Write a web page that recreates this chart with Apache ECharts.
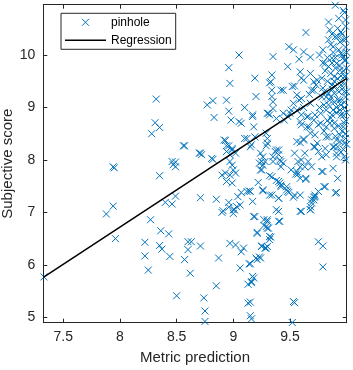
<!DOCTYPE html>
<html><head><meta charset="utf-8">
<script src="https://cdn.jsdelivr.net/npm/echarts@6/dist/echarts.min.js"></script>
<style>html,body{margin:0;padding:0;background:#fff}#c{width:353px;height:370px}</style>
</head><body><div id="c"></div>
<script>
const xTicks = [7.5, 8, 8.5, 9, 9.5];
const yTicks = [5, 6, 7, 8, 9, 10];
const xRange = [7.324, 10];
const yRange = [4.897, 10.96];
const regressionX = [7.324, 10];
const regressionY = [5.76, 9.556];
const pinhole = [
[7.33,5.77],[7.88,6.97],[7.94,7.12],[7.94,7.87],[7.95,7.85],[7.96,6.50],
[8.27,6.86],[8.31,8.71],[8.28,8.50],[8.35,8.62],[8.32,9.16],
[8.46,7.97],[8.47,7.91],[8.49,7.87],[8.49,7.96],[8.35,7.70],
[8.40,7.19],[8.46,7.16],[8.49,7.31],[8.36,6.65],[8.43,6.59],
[8.22,6.43],[8.35,6.37],[8.22,6.17],[8.25,5.90],[8.37,6.30],[8.44,6.16],[8.50,5.41],
[8.60,6.44],[8.63,6.44],[8.71,6.36],[8.60,6.29],[8.57,6.10],[8.62,5.84],[8.87,6.13],[8.85,5.60],[8.74,5.37],[8.75,5.12],[8.75,4.92],
[8.97,6.41],[9.02,6.38],[9.07,6.25],[9.09,6.32],[9.06,5.94],[9.15,6.02],[9.21,6.10],[9.24,6.13],[9.18,5.75],[9.16,5.68],[9.13,5.63],[9.13,5.27],[9.15,5.29],[9.15,5.03],[9.16,4.97],[9.25,6.36],[9.28,6.32],[9.30,6.35],[9.32,6.48],[9.53,5.30],[9.54,5.28],[9.52,4.90],[9.75,6.44],[9.79,6.36],[9.79,5.96],
[8.97,7.97],[8.99,7.90],[8.90,7.71],[8.93,7.75],[8.97,7.71],[9.02,7.75],[8.94,7.59],[8.99,7.56],[9.00,7.81],
[8.71,7.28],[8.85,7.25],[8.96,7.19],[9.04,7.30],[9.07,7.38],[9.12,7.40],[9.03,7.11],[9.00,7.05],[9.00,6.98],[8.90,7.00],
[8.96,7.10],[9.01,7.05],[9.06,7.14],[8.91,7.03],
[9.14,7.41],[9.19,6.92],[9.26,7.41],[9.32,7.33],[9.38,7.05],[9.40,7.27],[9.40,6.83],[9.30,6.86],[9.27,6.75],[9.30,6.70],[9.21,6.60],[9.32,6.54],
[8.56,8.27],[8.71,8.13],[8.72,8.10],[8.82,8.01],[8.93,8.37],[8.96,8.27],[8.99,8.19],[8.94,8.16],[8.97,8.10],[9.02,8.13],[9.12,8.41],[9.15,8.25],[9.24,8.13],[9.30,8.32],[9.30,8.41],[9.25,7.97],[9.28,7.97],[9.24,7.81],[9.32,7.70],[9.35,7.97],[9.35,8.06],[9.38,8.19],[9.40,8.10],[9.41,8.00],[9.44,7.94],[9.40,7.59],[9.42,7.52],[9.47,7.43],[9.49,7.38],[9.53,7.29],[9.56,7.78],[9.57,7.73],[9.60,8.00],[9.59,7.87],[9.64,7.63],[9.59,8.33],[9.62,8.40],[9.65,8.63],[9.68,8.51],[9.74,8.32],[9.78,7.78],[9.80,7.49],[9.88,7.84],[9.72,7.33],[9.69,7.24],[9.71,7.29],[9.68,7.11],[9.68,7.05],[9.59,7.02],[9.91,7.38],
[9.23,7.94],[9.26,7.90],[9.25,7.81],[9.42,7.87],[9.51,7.81],[9.57,7.97],[9.55,7.73],[9.59,7.65],[9.63,7.87],[9.69,7.87],[9.64,7.65],[9.79,7.78],[9.92,7.65],[9.34,7.68],[9.38,7.61],[9.41,7.56],[9.42,7.49],[9.47,7.49],[9.48,7.40],[9.54,7.33],[9.59,7.33],[9.22,7.57],[9.26,7.43],[9.34,7.33],[9.40,7.27],[9.15,7.40],[9.17,7.21],[9.18,6.92],[9.21,6.62],[9.27,6.86],[9.30,6.83],[9.29,6.73],[9.31,6.70],[9.33,6.53],[9.40,7.02],[9.41,6.83],[9.25,6.35],[9.29,6.32],[9.20,6.13],[9.23,6.15],[9.14,6.02],[9.17,5.78],[9.16,5.66],[9.60,7.02],[9.69,7.18],[9.68,7.05],[9.71,7.24],[9.72,7.30],[9.75,7.40],[9.81,7.49],[9.90,7.37],
[9.05,10.0],[8.96,9.76],[8.97,9.46],[8.77,9.05],[8.82,9.13],[8.94,9.14],[9.10,9.00],[8.83,8.81],[8.96,8.93],[8.98,8.76],[9.05,8.73],[9.07,8.70],[9.10,8.41],[8.92,8.38],[8.94,8.27],[8.99,8.22],[8.57,8.27],[8.70,8.13],[8.81,8.03],
[9.19,9.56],[9.35,9.97],[9.33,9.49],[9.49,10.16],[9.53,10.10],[9.62,10.06],[9.58,9.92],[9.68,9.96],[9.48,9.78],[9.20,9.21],[9.17,8.83],[9.34,9.33],[9.44,9.33],[9.54,9.41],[9.59,9.68],[9.60,9.56],[9.62,9.52],[9.68,9.65],[9.71,9.49],[9.74,9.52],[9.71,9.33],[9.56,9.24],[9.58,9.14],[9.53,9.08],[9.35,9.11],[9.35,8.98],[9.32,8.86],[9.30,8.89],[9.38,8.79],[9.44,8.89],[9.50,8.89],[9.56,8.95],[9.62,9.00],[9.68,9.08],[9.65,8.82],[9.59,8.73],[9.71,8.76],[9.77,8.89],
[9.90,10.95],[9.98,10.81],[9.99,10.67],[9.84,10.63],[9.85,10.48],[9.92,10.51],[9.95,10.44],[9.64,10.43],[9.76,10.00],[9.79,10.10],[9.84,10.29],[9.88,10.16],[9.92,10.35],[9.97,10.29],[9.87,9.94],[9.91,9.84],[9.95,10.03],[9.98,9.90],[9.84,9.78],[9.81,9.84],[9.94,9.71],[9.98,9.59],[9.89,9.59],[9.78,9.56],[9.87,9.43],[9.95,9.43],[9.98,9.30],[9.89,9.27],[9.84,9.27],[9.79,9.37],[9.73,9.43],[9.85,9.14],[9.94,9.14],[9.98,9.00],[9.91,9.00],[9.82,8.95],[9.76,9.00],[9.72,8.86],[9.87,8.86],[9.95,8.86],[9.98,8.70],[9.89,8.70],[9.82,8.63],[9.75,8.67],[9.67,8.63],[9.60,8.67],[9.66,8.83],[9.60,8.86],[9.51,8.95],[9.45,8.76],[9.69,9.33],[9.67,9.25],[9.60,9.17],[9.48,8.83],[9.34,9.21],[9.31,8.89],[9.17,8.86],[9.18,8.63],[9.32,9.47],[9.34,9.62],[9.42,9.33],[9.52,9.40],[9.56,8.35],[9.62,8.38],[9.72,8.48],[9.84,8.44],[9.94,8.48],[9.98,8.32],[9.89,8.25],[9.81,8.22],[9.72,8.25],[9.78,8.06],[9.91,8.06],[9.98,8.06],[9.63,8.13],[9.54,8.13],[9.40,8.19],[9.29,8.27],[9.26,8.06],[9.37,8.16],[9.42,7.97],[9.66,7.97],[9.29,8.51],[9.19,8.44],[9.16,8.29],
[9.85,8.70],[9.97,8.63],[9.99,8.41],[9.91,8.38],[9.88,8.25],[9.82,8.44],[9.91,8.13],[9.75,8.16],[9.71,8.25],[9.82,8.10],
[9.86,10.20],[9.88,10.05],[9.90,9.95],[9.93,10.10],[9.96,10.00],[9.99,10.15],[9.87,9.85],[9.90,9.75],[9.94,9.80],[9.97,9.70],[9.99,9.60],[9.86,9.65],[9.89,9.50],[9.92,9.55],[9.95,9.60],[9.98,9.45],[9.87,9.35],[9.90,9.40],[9.93,9.30],[9.96,9.35],[9.99,9.20],[9.86,9.20],[9.89,9.10],[9.92,9.15],[9.95,9.05],[9.98,9.10],[9.88,8.95],[9.91,8.90],[9.94,8.95],[9.97,8.85],[9.99,8.75],[9.86,8.80],[9.89,8.60],[9.93,8.65],[9.96,8.55],[9.99,8.50],[9.90,8.45],[9.94,8.35],[9.97,8.20],[9.99,8.00],[9.95,8.15],[9.92,8.25],[9.84,9.05],[9.82,9.20],[9.80,9.30],[9.83,9.50],[9.81,9.70],[9.79,9.85],[9.83,9.95],[9.78,9.20],[9.80,9.05],[9.77,8.70],[9.80,8.55],[9.83,8.75],[9.96,10.40],[9.99,10.55],[9.93,10.70],[9.97,10.85],[9.99,10.30],[9.94,10.25],[9.90,10.35],[9.87,10.40],[9.99,9.90],[9.97,9.95],[10.0,9.75],[10.0,9.30],[10.0,8.90],[10.0,8.30],[10.0,10.05]
];

const FONT = '"Liberation Sans", Arial, Helvetica, sans-serif';
const INK = '#262626';
const BLUE = '#0072BD';
const XMARK = 'path://M0,0L10,10M10,0L0,10';
const LINEICON = 'path://M0,0H40V1.5H0Z';

const chart = echarts.init(document.getElementById('c'), null, {renderer: 'canvas'});
const fmt = v => String(v);
function axisCommon(extra) {
  return Object.assign({
    type: 'value',
    axisLine: {show: true, onZero: false, lineStyle: {color: INK, width: 1}},
    splitLine: {show: false}
  }, extra);
}
chart.setOption({
  animation: false,
  textStyle: {fontFamily: FONT},
  grid: {left: 43.3, right: 6.3, top: 4.7, bottom: 47.3, containLabel: false, outerBoundsMode: 'none'},
  legend: {
    left: 61, top: 13.3, orient: 'vertical',
    padding: [1, 4, 1, 4], itemGap: 2, itemWidth: 41, itemHeight: 7,
    borderColor: INK, borderWidth: 1, backgroundColor: '#fff',
    textStyle: {fontFamily: FONT, fontSize: 12, color: '#000', lineHeight: 16},
    data: [
      {name: 'pinhole', icon: XMARK, itemStyle: {color: 'rgba(0,0,0,0)', borderColor: BLUE, borderWidth: 1}},
      {name: 'Regression', icon: LINEICON, itemStyle: {color: '#000', borderWidth: 0}}
    ]
  },
  xAxis: [
    axisCommon({min: xRange[0], max: xRange[1], position: 'bottom',
      name: 'Metric prediction', nameLocation: 'middle', nameGap: 28,
      nameTextStyle: {fontFamily: FONT, fontSize: 15, color: INK},
      axisTick: {show: true, inside: true, length: 4, customValues: xTicks, lineStyle: {color: INK}},
      axisLabel: {customValues: xTicks, formatter: fmt, margin: 7, fontFamily: FONT, fontSize: 14, color: INK}}),
    axisCommon({min: xRange[0], max: xRange[1], position: 'top',
      axisTick: {show: true, inside: true, length: 4, customValues: xTicks, lineStyle: {color: INK}},
      axisLabel: {show: false}})
  ],
  yAxis: [
    axisCommon({min: yRange[0], max: yRange[1], position: 'left',
      name: 'Subjective score', nameLocation: 'middle', nameGap: 28, nameMoveOverlap: false,
      nameTextStyle: {fontFamily: FONT, fontSize: 15, color: INK},
      axisTick: {show: true, inside: true, length: 4, customValues: yTicks, lineStyle: {color: INK}},
      axisLabel: {customValues: yTicks, formatter: fmt, margin: 8, fontFamily: FONT, fontSize: 14, color: INK}}),
    axisCommon({min: yRange[0], max: yRange[1], position: 'right',
      axisTick: {show: true, inside: true, length: 4, customValues: yTicks, lineStyle: {color: INK}},
      axisLabel: {show: false}})
  ],
  series: [
    {
      name: 'pinhole', type: 'scatter', xAxisIndex: 0, yAxisIndex: 0,
      symbol: XMARK, symbolSize: 7,
      itemStyle: {color: 'rgba(0,0,0,0)', borderColor: BLUE, borderWidth: 1, opacity: 1},
      emphasis: {disabled: true},
      data: pinhole
    },
    {
      name: 'Regression', type: 'line', xAxisIndex: 0, yAxisIndex: 0,
      symbol: 'none', color: '#000',
      lineStyle: {color: '#000', width: 1.5},
      emphasis: {disabled: true},
      data: regressionX.map((x, i) => [x, regressionY[i]])
    }
  ]
});
</script></body></html>
